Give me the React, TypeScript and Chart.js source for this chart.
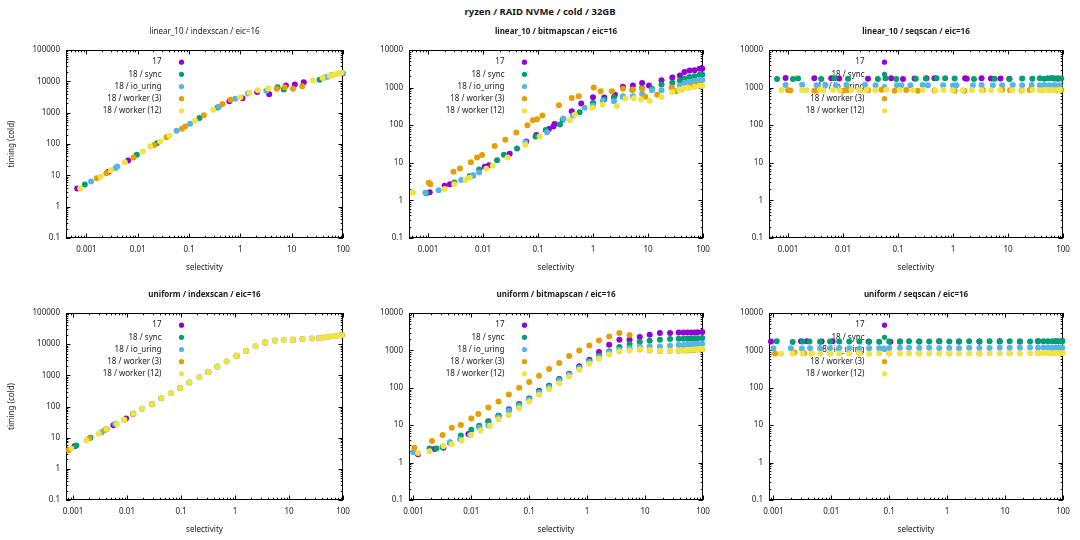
import React, { useEffect, useRef } from 'react';
import { Chart, registerables } from 'chart.js';

Chart.register(...registerables);

type Pt = [number, number];

// ---------- texts ----------
const MAIN_TITLE = 'ryzen / RAID NVMe / cold / 32GB';
const PANEL_TITLES = [
  'linear_10 / indexscan / eic=16',
  'linear_10 / bitmapscan / eic=16',
  'linear_10 / seqscan / eic=16',
  'uniform / indexscan / eic=16',
  'uniform / bitmapscan / eic=16',
  'uniform / seqscan / eic=16',
];
const SERIES_LABELS = ['17', '18 / sync', '18 / io_uring', '18 / worker (3)', '18 / worker (12)'];
const X_TITLE = 'selectivity';
const Y_TITLE = 'timing (cold)';

// ---------- axes ----------
const X_TICKS = [0.001, 0.01, 0.1, 1, 10, 100];
const X_TICK_LABELS = ['0.001', '0.01', '0.1', '1', '10', '100'];
const Y_TICKS = [0.1, 1, 10, 100, 1000, 10000, 100000];
const Y_TICK_LABELS = ['0.1', '1', '10', '100', '1000', '10000', '100000'];
const X_MINS = [0.0004, 0.00045, 0.00045, 0.00074, 0.00084, 0.00084];
const X_MAX = 100;
const Y_MIN = 0.1;
const Y_MAXES = [100000, 10000, 10000, 100000, 10000, 10000];

// ---------- data: linear_10 / indexscan ----------
const LIN_IDX_17: Pt[] = [[0.00066, 3.8], [0.0027, 13.1], [0.0065, 29.6], [0.61, 2310], [1.1, 2900], [2.13, 4600], [3.65, 3870], [7.7, 7350], [11.5, 7900], [17.2, 9400], [98, 17800]];
const LIN_IDX_SYNC: Pt[] = [[0.00093, 5.1], [0.0096, 45], [0.0236, 105], [0.16, 670], [0.36, 1450], [5.3, 6500], [7.0, 5500], [35, 11200], [60, 15500], [88, 18000]];
const LIN_IDX_IOU: Pt[] = [[0.00123, 6.3], [0.0037, 17], [0.004, 19], [0.057, 265], [0.105, 440], [0.38, 1550], [0.79, 2800], [1.4, 4100], [3.2, 5000], [44, 13300], [50, 14000], [97, 18500]];
const LIN_IDX_W3: Pt[] = [[0.00159, 8.0], [0.00245, 11.6], [0.0083, 37], [0.021, 93], [0.0365, 165], [0.0725, 307], [0.084, 365], [0.195, 820], [0.45, 1900], [0.64, 2600], [5.1, 5800], [7.3, 6500], [10.6, 5800], [16, 7000]];
const LIN_IDX_W12: Pt[] = [[0.00076, 3.9], [0.0019, 9], [0.003, 14.6], [0.0056, 26], [0.0126, 58], [0.0175, 83], [0.0273, 120], [0.0415, 183], [0.131, 555], [0.298, 1250], [1.0, 3100], [1.5, 4300], [2.2, 5200], [3.5, 5900], [26, 10600], [40, 12800], [55, 15000], [64, 16000], [74, 17000], [84, 18000], [93, 18700]];

// ---------- data: linear_10 / bitmapscan ----------
const LIN_BMP_17: Pt[] = [[0.00107, 1.65], [0.002, 2.45], [0.0025, 2.7], [0.0066, 4.6], [0.0107, 7.9], [0.0128, 8.6], [0.0305, 17.5], [0.061, 37], [0.093, 55], [0.158, 79], [0.19, 93], [0.2, 107], [0.41, 234], [0.61, 375], [1.0, 553], [1.6, 545], [2.5, 650], [3.5, 1050], [5.3, 1130], [7.8, 1330], [10.4, 1130], [17.6, 1580], [27.7, 1860], [38, 2100], [46, 2580], [57, 2860], [70, 2900], [87, 3150], [97, 3150]];
const LIN_BMP_SYNC: Pt[] = [[0.00093, 1.55], [0.003, 3.0], [0.0057, 4.4], [0.0085, 6.6], [0.018, 11.7], [0.024, 16.3], [0.0415, 24], [0.09, 50], [0.138, 75], [0.25, 105], [0.28, 140], [0.57, 220], [1.0, 390], [1.6, 480], [2.4, 550], [3.5, 570], [5.2, 880], [7.8, 980], [11.8, 930], [17.6, 1200], [27.7, 1340], [38, 1550], [46, 1750], [57, 1900], [70, 2000], [87, 2200], [97, 2200]];
const LIN_BMP_IOU: Pt[] = [[0.00089, 1.6], [0.00156, 1.85], [0.004, 3.5], [0.0066, 4.6], [0.0085, 5.5], [0.059, 35], [0.146, 65], [0.29, 150], [0.43, 180], [0.7, 290], [1.0, 330], [1.5, 450], [2.4, 433], [3.5, 590], [5.3, 590], [7.8, 680], [11.8, 850], [17.6, 850], [26.9, 1000], [38, 1140], [46, 1340], [57, 1400], [70, 1500], [87, 1580], [97, 1600]];
const LIN_BMP_W3: Pt[] = [[0.00103, 2.96], [0.0011, 2.7], [0.0029, 5.8], [0.0038, 7.1], [0.006, 10.3], [0.0078, 13.8], [0.0096, 16.2], [0.0163, 28], [0.0254, 41], [0.0403, 64], [0.064, 100], [0.081, 135], [0.096, 145], [0.12, 180], [0.24, 340], [0.41, 525], [0.55, 590], [1.03, 1000], [1.37, 800], [2.2, 800], [3.5, 930], [5.3, 890], [7.8, 920], [8.9, 570], [14.7, 650], [26.9, 985], [32, 800], [40, 890], [57, 1050], [70, 1130], [87, 1200]];
const LIN_BMP_W12: Pt[] = [[0.00053, 1.6], [0.002, 2.0], [0.003, 2.7], [0.0048, 3.5], [0.0057, 4.0], [0.0115, 6.9], [0.015, 8.4], [0.028, 13.8], [0.059, 30], [0.107, 50], [0.38, 135], [0.47, 190], [0.98, 290], [1.5, 350], [2.7, 320], [3.9, 520], [5.5, 520], [7.5, 490], [10.7, 450], [17.6, 560], [27.7, 760], [37, 890], [44, 930], [55, 980], [70, 1040], [87, 1120], [97, 1100]];

// ---------- data: linear_10 / seqscan ----------
const LIN_SEQ_17: Pt[] = [[0.0009, 1800], [0.003, 1760], [0.0061, 1780], [0.0085, 1740], [0.0284, 1720], [0.075, 1760], [0.123, 1700], [0.2, 1740], [0.33, 1760], [0.46, 1760], [1.66, 1780], [1.78, 1720], [3.3, 1760], [4.9, 1750], [7.3, 1740], [10.6, 1720], [65, 1760], [81, 1720]];
const LIN_SEQ_SYNC: Pt[] = [[0.00063, 1700], [0.00123, 1690], [0.00152, 1740], [0.004, 1700], [0.007, 1760], [0.0123, 1720], [0.043, 1700], [0.059, 1760], [0.093, 1700], [0.21, 1720], [0.32, 1740], [0.5, 1760], [0.72, 1760], [1.07, 1740], [2.4, 1700], [5.7, 1720], [10.6, 1690], [18.1, 1740], [27.7, 1720], [38, 1760], [46, 1720], [53, 1780], [61, 1760], [70, 1740], [81, 1760], [93, 1740]];
const LIN_SEQ_IOU: Pt[] = [[0.0009, 1180], [0.0018, 1190], [0.0033, 1150], [0.0048, 1180], [0.0074, 1150], [0.0115, 1180], [0.025, 1190], [0.039, 1160], [0.096, 1150], [0.115, 1150], [0.168, 1160], [0.28, 1170], [0.35, 1150], [0.66, 1160], [1.0, 1140], [1.15, 1160], [2.3, 1150], [3.3, 1170], [5.3, 1160], [7.8, 1160], [12.2, 1170], [18.1, 1160], [26.9, 1170], [38, 1150], [46, 1180], [57, 1160], [70, 1170], [87, 1150]];
const LIN_SEQ_W3: Pt[] = [[0.001, 850], [0.0011, 840], [0.003, 830], [0.0033, 840], [0.01, 830], [0.012, 850], [0.02, 860], [0.0284, 850], [0.05, 880], [0.087, 830], [0.141, 860], [0.23, 830], [0.46, 840], [1.07, 830], [1.6, 820], [3.5, 860], [7.8, 870], [10.9, 850], [17.6, 840], [24.8, 860], [40, 850], [57, 860], [75, 850], [93, 870]];
const LIN_SEQ_W12: Pt[] = [[0.00076, 860], [0.0018, 860], [0.00215, 850], [0.0038, 870], [0.0044, 840], [0.0066, 860], [0.0087, 840], [0.0142, 860], [0.02, 850], [0.0265, 860], [0.0387, 850], [0.061, 870], [0.107, 860], [0.187, 850], [0.28, 860], [0.48, 840], [0.67, 860], [1.0, 850], [1.5, 850], [2.2, 860], [3.3, 850], [4.9, 850], [7.2, 860], [11.9, 850], [18.1, 840], [27.7, 860], [38, 850], [46, 860], [57, 860], [70, 850], [87, 870]];

// ---------- data: uniform / indexscan ----------
const UNI_IDX_17: Pt[] = [[0.00106, 5.3], [0.0056, 24.8], [0.0096, 41], [0.013, 58], [0.029, 119], [0.096, 390], [0.32, 1270], [1.07, 4250], [3.6, 11300], [11.8, 13900], [36, 15700], [94, 19200]];
const UNI_IDX_SYNC: Pt[] = [[0.00115, 5.6], [0.0021, 10], [0.0042, 19], [0.013, 58], [0.043, 185], [0.142, 590], [0.47, 1930], [1.6, 6000], [5.5, 13200], [17.7, 14600], [52, 17000], [94, 19200]];
const UNI_IDX_IOU: Pt[] = [[0.0034, 15], [0.006, 27.5], [0.019, 84], [0.065, 267], [0.218, 870], [0.7, 2800], [2.4, 8500], [8.0, 13900], [26.5, 15300], [70, 17800]];
const UNI_IDX_W3: Pt[] = [[0.00083, 4.0], [0.002, 9.6], [0.0039, 17.6], [0.0089, 37.3], [0.029, 119], [0.096, 390], [0.32, 1270], [1.07, 4250], [3.6, 11300], [11.8, 13900], [44, 16500], [94, 19200]];
const UNI_IDX_W12: Pt[] = [[0.00093, 4.5], [0.00176, 8.1], [0.003, 13.3], [0.0042, 19], [0.0065, 27.5], [0.0089, 37.3], [0.013, 58], [0.019, 84], [0.029, 119], [0.043, 185], [0.065, 267], [0.096, 390], [0.142, 590], [0.218, 870], [0.32, 1270], [0.47, 1930], [0.7, 2800], [1.07, 4250], [1.6, 6000], [2.4, 8500], [3.6, 11300], [5.5, 13200], [8.0, 13900], [11.8, 13900], [17.7, 14600], [26.5, 15300], [36, 15700], [44, 16500], [52, 17000], [60, 17500], [70, 17800], [81, 18700], [94, 19200]];

// ---------- data: uniform / bitmapscan ----------
const UNI_BMP_17: Pt[] = [[0.0012, 1.67], [0.0023, 2.3], [0.0033, 2.5], [0.0043, 3.4], [0.0089, 5.8], [0.0137, 9.2], [0.0197, 12.8], [0.0295, 18], [0.0445, 26.8], [0.067, 37], [0.1, 52], [0.148, 83], [0.22, 113], [0.33, 171], [0.49, 237], [0.73, 375], [1.09, 560], [1.6, 900], [2.4, 1420], [3.6, 1930], [5.4, 1930], [8.1, 2270], [12, 2630], [18, 2910], [27, 2910], [38, 3030], [46, 3030], [54, 3030], [62, 3030], [71, 3030], [81, 3050], [97, 3100]];
const UNI_BMP_SYNC: Pt[] = [[0.0019, 2.4], [0.0025, 2.4], [0.0032, 2.6], [0.0043, 3.4], [0.0066, 5.3], [0.01, 7.5], [0.0137, 9.6], [0.0197, 12.3], [0.0295, 17.8], [0.0445, 25.6], [0.067, 36], [0.1, 51], [0.148, 80], [0.22, 113], [0.33, 168], [0.49, 230], [0.73, 350], [1.09, 530], [1.6, 720], [2.4, 940], [3.6, 1230], [5.4, 1480], [8.1, 1670], [12, 1820], [18, 1930], [27, 2010], [38, 2050], [46, 2050], [54, 2050], [62, 2080], [71, 2080], [81, 2100], [97, 2140]];
const UNI_BMP_IOU: Pt[] = [[0.001, 1.9], [0.0043, 3.5], [0.0064, 4.2], [0.0095, 5.5], [0.0137, 8.7], [0.0197, 9.8], [0.0295, 16.4], [0.0445, 24.2], [0.067, 33], [0.1, 48], [0.148, 75], [0.22, 104], [0.33, 157], [0.49, 223], [0.73, 337], [1.09, 490], [1.6, 660], [2.4, 880], [3.6, 1040], [5.4, 1150], [8.1, 1280], [12, 1280], [18, 1280], [27, 1330], [38, 1390], [46, 1390], [54, 1420], [62, 1450], [71, 1480], [81, 1510], [97, 1510]];
const UNI_BMP_W3: Pt[] = [[0.00104, 2.5], [0.0021, 3.8], [0.0032, 5.5], [0.0046, 8.6], [0.0066, 10.1], [0.01, 15], [0.0132, 20], [0.0197, 29.6], [0.0295, 43], [0.0445, 66], [0.067, 100], [0.1, 142], [0.148, 211], [0.22, 316], [0.33, 460], [0.49, 705], [0.73, 1000], [1.09, 1360], [1.6, 1850], [2.4, 2370], [3.6, 2900], [5.4, 2570], [8.1, 1050], [12, 1000], [18, 960], [27, 960], [38, 980], [46, 990], [54, 1000], [62, 1010], [71, 1030], [81, 1050], [97, 1070]];
const UNI_BMP_W12: Pt[] = [[0.0012, 1.8], [0.0019, 2.0], [0.0033, 2.8], [0.0046, 3.1], [0.0068, 3.9], [0.01, 5.5], [0.0145, 7.2], [0.021, 9.6], [0.0295, 14.5], [0.0445, 18.5], [0.067, 28.5], [0.1, 43], [0.148, 65], [0.22, 92], [0.33, 133], [0.49, 201], [0.73, 303], [1.09, 440], [1.6, 600], [2.4, 780], [3.6, 940], [5.4, 1000], [8.1, 1090], [12, 1020], [18, 980], [27, 980], [38, 1000], [46, 1000], [54, 1020], [62, 1040], [71, 1060], [81, 1080], [97, 1090]];

// ---------- data: uniform / seqscan ----------
const UNI_SEQ_17: Pt[] = [[0.00091, 1740], [0.003, 1760], [0.0038, 1760], [0.0068, 1730], [0.0105, 1760], [0.044, 1720], [0.105, 1700], [0.153, 1740], [0.33, 1740], [0.73, 1760], [1.6, 1740], [3.6, 1740], [8.1, 1760], [18, 1740], [37, 1750], [75, 1770], [97, 1780]];
const UNI_SEQ_SYNC: Pt[] = [[0.00114, 1760], [0.00215, 1680], [0.0032, 1740], [0.0042, 1740], [0.0064, 1700], [0.0095, 1740], [0.0137, 1740], [0.0204, 1740], [0.0305, 1740], [0.045, 1700], [0.067, 1700], [0.1, 1720], [0.153, 1740], [0.22, 1750], [0.33, 1740], [0.49, 1740], [0.73, 1750], [1.09, 1720], [1.6, 1740], [2.4, 1770], [3.6, 1740], [5.4, 1750], [8.1, 1740], [12, 1750], [18, 1740], [27, 1740], [37, 1750], [46, 1760], [55, 1760], [65, 1750], [75, 1770], [85, 1770], [97, 1760]];
const UNI_SEQ_IOU: Pt[] = [[0.001, 1150], [0.002, 1150], [0.0031, 1130], [0.0043, 1150], [0.0064, 1130], [0.0095, 1150], [0.0137, 1160], [0.0204, 1140], [0.0305, 1130], [0.045, 1150], [0.067, 1150], [0.08, 1120], [0.1, 1160], [0.153, 1180], [0.22, 1180], [0.33, 1160], [0.49, 1180], [0.73, 1150], [1.09, 1160], [1.6, 1150], [2.4, 1170], [3.6, 1160], [5.4, 1160], [8.1, 1170], [12, 1170], [18, 1180], [27, 1190], [37, 1180], [46, 1190], [55, 1200], [65, 1180], [75, 1180], [85, 1190], [97, 1180]];
const UNI_SEQ_W3: Pt[] = [[0.00107, 820], [0.0023, 880], [0.0034, 840], [0.0046, 820], [0.0095, 830], [0.0305, 840], [0.1, 820], [0.33, 830], [1.09, 830], [3.6, 830], [12, 840], [37, 850], [65, 840], [97, 850]];
const UNI_SEQ_W12: Pt[] = [[0.00136, 810], [0.00215, 830], [0.0032, 830], [0.0046, 830], [0.0064, 810], [0.0095, 830], [0.0137, 820], [0.0204, 830], [0.0305, 840], [0.045, 810], [0.067, 830], [0.1, 820], [0.153, 830], [0.22, 830], [0.33, 830], [0.49, 830], [0.73, 830], [1.09, 830], [1.6, 820], [2.4, 830], [3.6, 830], [5.4, 830], [8.1, 830], [12, 840], [18, 830], [27, 840], [37, 850], [46, 840], [55, 850], [65, 840], [75, 840], [85, 850], [97, 850]];

const PANEL_SERIES: Pt[][][] = [
  [LIN_IDX_17, LIN_IDX_SYNC, LIN_IDX_IOU, LIN_IDX_W3, LIN_IDX_W12],
  [LIN_BMP_17, LIN_BMP_SYNC, LIN_BMP_IOU, LIN_BMP_W3, LIN_BMP_W12],
  [LIN_SEQ_17, LIN_SEQ_SYNC, LIN_SEQ_IOU, LIN_SEQ_W3, LIN_SEQ_W12],
  [UNI_IDX_17, UNI_IDX_SYNC, UNI_IDX_IOU, UNI_IDX_W3, UNI_IDX_W12],
  [UNI_BMP_17, UNI_BMP_SYNC, UNI_BMP_IOU, UNI_BMP_W3, UNI_BMP_W12],
  [UNI_SEQ_17, UNI_SEQ_SYNC, UNI_SEQ_IOU, UNI_SEQ_W3, UNI_SEQ_W12],
];

// ---------- styles & layout ----------
const SERIES_COLORS = ['#9400d3', '#009e73', '#56b4e9', '#e69f00', '#f0e442'];
const FONT = "'Noto Sans', sans-serif";
const TEXT_COLOR = '#1a1a1a';
const FONT_SIZE = 8;
const POINT_R = 3;
const LEGEND_R = 2.6;
const TITLE_BOLD = [false, true, true, true, true, true];
const CANVAS_W = 360;
const COL_LEFT = [0, 360, 720];
const FRAME_LEFT = [66, 409, 769];
const FRAME_RIGHT = [343, 703, 1063];
const ROW_TOP = [0, 280];
const ROW_H = [280, 260];
const FRAME_TOP = [50, 313];
const FRAME_BOTTOM = [238, 500];
const X_AXIS_H = 36;
const LEG_TEXT_DX = 95.5;
const LEG_MARK_DX = 115.5;
const LEG_Y0 = 12.2;
const LEG_DY = 12.15;
const TITLE_DY = -17.8;
const MAJOR_LEN = 4.5;
const MINOR_LEN = 2.3;

function logMarks(min: number, max: number): [number, boolean][] {
  const out: [number, boolean][] = [];
  const d0 = Math.floor(Math.log10(min));
  const d1 = Math.ceil(Math.log10(max));
  for (let d = d0; d <= d1; d++) {
    for (let k = 1; k <= 9; k++) {
      const v = Number((k * Math.pow(10, d)).toPrecision(10));
      if (v >= min * 0.9999 && v <= max * 1.0001) out.push([v, k === 1]);
    }
  }
  return out;
}

function Panel({ idx }: { idx: number }) {
  const ref = useRef<HTMLCanvasElement>(null);
  const col = idx % 3;
  const row = Math.floor(idx / 3);
  const left = COL_LEFT[col];
  const top = ROW_TOP[row];
  const h = ROW_H[row];

  useEffect(() => {
    const yAxisW = FRAME_LEFT[col] - left;
    const padRight = left + CANVAS_W - FRAME_RIGHT[col];
    const padTop = FRAME_TOP[row] - top;
    const padBottom = top + h - FRAME_BOTTOM[row] - X_AXIS_H;
    const font = { family: FONT, size: FONT_SIZE };

    const gnuPlugin = {
      id: 'gnuDecor',
      beforeDatasetsDraw(chart: any) {
        const { ctx, chartArea: a } = chart;
        const xs = chart.scales.x;
        const ys = chart.scales.y;
        ctx.save();
        // frame
        ctx.strokeStyle = '#000';
        ctx.lineWidth = 1;
        ctx.strokeRect(a.left + 0.5, a.top + 0.5, a.right - a.left - 1, a.bottom - a.top - 1);
        ctx.beginPath();
        for (const [v, major] of logMarks(xs.min, xs.max)) {
          const px = Math.round(xs.getPixelForValue(v)) + 0.5;
          const len = major ? MAJOR_LEN : MINOR_LEN;
          ctx.moveTo(px, a.bottom);
          ctx.lineTo(px, a.bottom - len);
          ctx.moveTo(px, a.top);
          ctx.lineTo(px, a.top + len);
        }
        for (const [v, major] of logMarks(ys.min, ys.max)) {
          const py = Math.round(ys.getPixelForValue(v)) + 0.5;
          const len = major ? MAJOR_LEN : MINOR_LEN;
          ctx.moveTo(a.left, py);
          ctx.lineTo(a.left + len, py);
          ctx.moveTo(a.right, py);
          ctx.lineTo(a.right - len, py);
        }
        ctx.stroke();
        // legend (drawn under the points, as in the reference)
        ctx.font = `${FONT_SIZE}px ${FONT}`;
        ctx.textAlign = 'right';
        ctx.textBaseline = 'middle';
        chart.data.datasets.forEach((ds: any, i: number) => {
          const yy = a.top + LEG_Y0 + i * LEG_DY;
          ctx.fillStyle = TEXT_COLOR;
          ctx.fillText(ds.label, a.left + LEG_TEXT_DX, yy);
          ctx.fillStyle = ds.backgroundColor;
          ctx.beginPath();
          ctx.arc(a.left + LEG_MARK_DX, yy, LEGEND_R, 0, Math.PI * 2);
          ctx.fill();
        });
        // panel title
        ctx.font = `${TITLE_BOLD[idx] ? 'bold ' : ''}${FONT_SIZE}px ${FONT}`;
        ctx.textAlign = 'center';
        ctx.fillStyle = TEXT_COLOR;
        ctx.fillText(PANEL_TITLES[idx], (a.left + a.right) / 2, a.top + TITLE_DY);
        ctx.restore();
      },
    };

    const datasets = PANEL_SERIES[idx].map((pts, i) => ({
      label: SERIES_LABELS[i],
      data: pts.map(([x, y]) => ({ x, y })),
      backgroundColor: SERIES_COLORS[i],
      borderColor: SERIES_COLORS[i],
      pointRadius: POINT_R,
      pointHoverRadius: POINT_R,
      pointBorderWidth: 0,
      showLine: false,
      clip: false as any,
      order: SERIES_LABELS.length - i,
    }));

    const chart = new Chart(ref.current as HTMLCanvasElement, {
      type: 'scatter',
      data: { datasets },
      plugins: [gnuPlugin],
      options: {
        animation: false,
        responsive: false,
        maintainAspectRatio: false,
        events: [],
        layout: { padding: { left: 0, right: padRight, top: padTop, bottom: padBottom } },
        plugins: { legend: { display: false }, tooltip: { enabled: false }, title: { display: false } },
        scales: {
          x: {
            type: 'logarithmic',
            position: 'bottom',
            min: X_MINS[idx],
            max: X_MAX,
            bounds: 'data',
            grid: { display: false, drawTicks: false },
            border: { display: false },
            ticks: {
              font,
              color: TEXT_COLOR,
              padding: 7,
              autoSkip: false,
              maxRotation: 0,
              callback: (v: any) => X_TICK_LABELS[X_TICKS.indexOf(Number(v))] ?? '',
            },
            title: { display: true, text: X_TITLE, font, color: TEXT_COLOR, padding: { top: 0, bottom: 1.2 } },
            afterBuildTicks: (s: any) => {
              s.ticks = X_TICKS.filter((v) => v >= s.min && v <= s.max).map((v) => ({ value: v }));
            },
            afterFit: (s: any) => {
              s.height = X_AXIS_H;
              s.paddingLeft = 0;
              s.paddingRight = 0;
            },
          },
          y: {
            type: 'logarithmic',
            position: 'left',
            min: Y_MIN,
            max: Y_MAXES[idx],
            bounds: 'data',
            grid: { display: false, drawTicks: false },
            border: { display: false },
            ticks: {
              font,
              color: TEXT_COLOR,
              padding: 6,
              autoSkip: false,
              callback: (v: any) => Y_TICK_LABELS[Y_TICKS.indexOf(Number(v))] ?? '',
            },
            title: { display: col === 0, text: Y_TITLE, font, color: TEXT_COLOR, padding: { top: 7, bottom: 0 } },
            afterBuildTicks: (s: any) => {
              s.ticks = Y_TICKS.filter((v) => v >= s.min && v <= s.max).map((v) => ({ value: v }));
            },
            afterFit: (s: any) => {
              s.width = yAxisW;
              s.paddingTop = 0;
              s.paddingBottom = 0;
            },
          },
        },
      } as any,
    });
    return () => chart.destroy();
  }, []);

  return (
    <canvas
      ref={ref}
      width={CANVAS_W}
      height={h}
      style={{ position: 'absolute', left, top, width: CANVAS_W, height: h }}
    />
  );
}

export default function App() {
  return (
    <div
      style={{
        position: 'absolute',
        left: 0,
        top: 0,
        width: 1080,
        height: 540,
        background: '#fff',
        overflow: 'hidden',
      }}
    >
      <div
        style={{
          position: 'absolute',
          left: 0,
          top: 6.3,
          width: 1080,
          textAlign: 'center',
          font: `bold 9.5px ${FONT}`,
          lineHeight: '12px',
          color: TEXT_COLOR,
        }}
      >
        {MAIN_TITLE}
      </div>
      {[0, 1, 2, 3, 4, 5].map((i) => (
        <Panel key={i} idx={i} />
      ))}
    </div>
  );
}
